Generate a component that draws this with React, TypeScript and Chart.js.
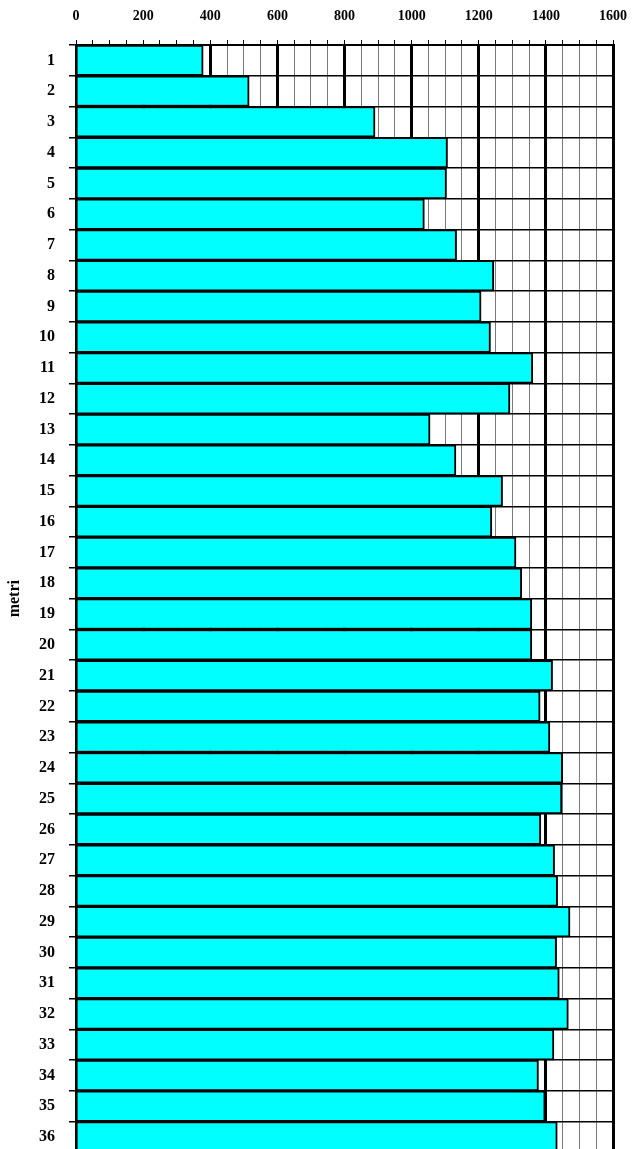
import React, { useEffect, useRef } from "react";
import { Chart, registerables } from "chart.js";

Chart.register(...registerables);

const categories: string[] = Array.from({ length: 36 }, (_, i) => String(i + 1));
const metriValues: number[] = [
  379, 516, 891, 1107, 1104, 1038, 1134, 1245, 1207, 1235,
  1361, 1293, 1055, 1132, 1271, 1239, 1311, 1328, 1358, 1358,
  1420, 1383, 1412, 1450, 1448, 1385, 1426, 1435, 1472, 1432,
  1440, 1467, 1424, 1378, 1398, 1434,
];
const xMin = 0;
const xMax = 1600;
const minorStep = 50;
const majorStep = 200;
const axisTitle = "metri";

const FONT = "'Liberation Serif', 'Times New Roman', serif";

export default function App() {
  const canvasRef = useRef<HTMLCanvasElement | null>(null);

  useEffect(() => {
    if (!canvasRef.current) return;
    const chart = new Chart(canvasRef.current, {
      type: "bar",
      data: {
        labels: categories,
        datasets: [
          {
            data: metriValues,
            backgroundColor: "#00FFFF",
            borderColor: "#000000",
            borderWidth: 2,
            barPercentage: 1,
            categoryPercentage: 1,
          },
        ],
      },
      options: {
        indexAxis: "y",
        responsive: false,
        animation: false,
        layout: { padding: { left: 0, right: 19, top: 0, bottom: 0 } },
        plugins: { legend: { display: false }, tooltip: { enabled: false } },
        scales: {
          x: {
            type: "linear",
            position: "top",
            min: xMin,
            max: xMax,
            afterFit: (scale: any) => {
              scale.height = 45;
              scale.paddingRight = 0;
              scale.paddingLeft = 0;
            },
            border: { display: true, color: "#000", width: 2 },
            grid: {
              color: (ctx: any) =>
                ctx.tick && ctx.tick.value % majorStep === 0 ? "#000" : "#7a7a7a",
              lineWidth: (ctx: any) =>
                ctx.tick && ctx.tick.value % majorStep === 0 ? 3 : 1,
              tickColor: "#000",
              tickWidth: 1,
              tickLength: 5,
              drawTicks: true,
            },
            ticks: {
              stepSize: minorStep,
              maxTicksLimit: 100,
              autoSkip: false,
              maxRotation: 0,
              padding: 15,
              color: "#000",
              font: { family: FONT, size: 14, weight: "bold" },
              callback: (v: any) => (Number(v) % majorStep === 0 ? String(v) : ""),
            },
          },
          y: {
            type: "category",
            afterFit: (scale: any) => {
              scale.width = 76;
            },
            border: { display: true, color: "#000", width: 2 },
            grid: {
              offset: true,
              color: "#000",
              lineWidth: 1.5,
              tickColor: "#000",
              tickLength: 7,
            },
            ticks: {
              autoSkip: false,
              padding: 14,
              color: "#000",
              font: { family: FONT, size: 16, weight: "bold" },
            },
            title: {
              display: true,
              text: axisTitle,
              color: "#000",
              padding: { top: 5, bottom: 0 },
              font: { family: FONT, size: 16, weight: "bold" },
            },
          },
        },
      },
    });
    return () => chart.destroy();
  }, []);

  return (
    <div
      style={{
        position: "fixed",
        left: 0,
        top: 0,
        width: 632,
        height: 1149,
        overflow: "hidden",
        background: "#fff",
      }}
    >
      <canvas ref={canvasRef} width={632} height={1176} style={{ display: "block" }} />
    </div>
  );
}
